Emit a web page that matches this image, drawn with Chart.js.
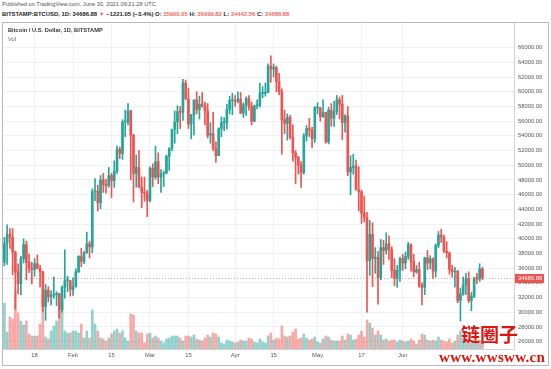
<!DOCTYPE html>
<html>
<head>
<meta charset="utf-8">
<script src="https://cdn.jsdelivr.net/npm/chart.js@4.4.1/dist/chart.umd.min.js"></script>
<style>
  body { margin: 0; background: #fff; width: 551px; height: 369px; overflow: hidden; position: relative; font-family: "Liberation Sans", Arial, sans-serif; }
  .txt { position: absolute; white-space: nowrap; }
  #pub { left: 2px; top: 1px; font-size: 5.7px; color: #555; }
  #sym { left: 2px; top: 11px; font-size: 5.9px; color: #222; font-weight: bold; }
  #sym .r { color: #ef6a66; }
  #box { position: absolute; left: 2px; top: 22px; width: 547px; height: 344px; border: 1px solid #b8b8b8; box-sizing: border-box; }
  #wrap { position: absolute; left: 3px; top: 23px; }
  #title { left: 8px; top: 27px; font-size: 5.7px; font-weight: bold; color: #333; }
  #vol { left: 8px; top: 36px; font-size: 5.7px; color: #666; }
  #wm1 { left: 461px; top: 324px; font-size: 19px; font-weight: bold; color: #e0140e; font-family: "Noto Sans CJK SC", sans-serif; line-height: 1; }
  #wm2 { left: 439px; top: 350px; font-size: 15px; font-weight: bold; color: #e0140e; font-family: "Liberation Serif", serif; line-height: 1; letter-spacing: 0.3px; }
</style>
</head>
<body>
<div id="pub" class="txt">Published on TradingView.com, June 30, 2021 09:21:28 UTC</div>
<div id="sym" class="txt">BITSTAMP:BTCUSD, 1D: 34686.88 <span class="r">▼</span> −1221.05 (−3.4%) O: <span class="r">35900.05</span> H: <span class="r">36099.82</span> L: <span class="r">34442.56</span> C: <span class="r">34686.88</span></div>
<div id="box"></div>
<div id="wrap"><canvas id="chart" width="544" height="341"></canvas></div>
<div id="title" class="txt">Bitcoin / U.S. Dollar, 1D, BITSTAMP</div>
<div id="vol" class="txt">Vol</div>
<div id="wm1" class="txt">链圈子</div>
<div id="wm2" class="txt">www.wwsww.cn</div>
<script>
// daily candles, 7 Jan 2021 .. 30 Jun 2021, prices in thousand USD
const opens = [
  36.8, 39.4, 40.6, 40.2, 38.2, 35.5, 33.9, 37.3, 39.2, 36.8, 36.0, 35.8, 36.6, 36.0, 35.5, 30.8, 33.0, 32.1, 32.3, 32.4, 32.5, 30.4, 33.4, 34.3, 34.3,
  33.1, 33.5, 35.5, 37.6, 36.9, 38.1, 39.3, 38.9, 46.4, 46.5, 44.9, 48.0, 47.4, 47.2, 48.6, 47.9, 49.2, 52.2, 51.6, 55.9, 55.9, 57.4, 54.1, 48.9, 49.7, 47.0, 46.3, 46.2,
  45.2, 49.6, 48.4, 50.5, 48.4, 48.8, 48.9, 51.2, 52.3, 54.9, 55.9, 57.3, 57.2, 61.2, 59.0, 55.6, 56.9, 58.9, 57.6, 58.3, 58.1, 57.4, 54.1, 54.3, 52.3, 51.3, 55.0, 55.8, 55.8, 57.6, 58.8,
  58.8, 58.7, 59.0, 57.1, 58.2, 59.1, 58.0, 56.0, 58.1, 58.1, 59.8, 59.8, 59.9, 63.5, 63.1, 63.3, 61.4, 60.0, 56.2, 55.7, 56.5, 53.8, 51.7, 51.1, 50.0, 49.0, 54.0, 55.0, 54.8, 53.6,
  57.8, 57.8, 56.6, 57.2, 53.2, 57.5, 56.4, 57.3, 58.9, 58.3, 55.8, 56.7, 49.1, 49.7, 49.9, 46.7, 46.4, 43.5, 42.9, 37.0, 40.6, 37.3, 37.5, 34.7, 38.8, 38.4, 39.3, 38.5, 35.7, 34.6, 35.7,
  37.3, 36.7, 37.6, 39.2, 36.9, 35.5, 35.8, 33.6, 33.4, 37.4, 36.7, 37.3, 35.6, 39.1, 40.5, 40.2, 38.3, 38.1, 35.8, 35.5, 35.6, 31.6, 32.5, 33.7, 34.6, 31.6, 32.2, 34.7, 34.5, 35.9
];
const highs = [
  40.2, 41.9, 41.4, 41.4, 38.3, 36.6, 37.6, 40.0, 39.7, 37.9, 36.8, 37.3, 37.8, 36.4, 35.6, 33.8, 33.5, 32.9, 34.8, 32.8, 32.6, 33.6, 38.5, 34.9, 34.3,
  34.7, 35.9, 37.7, 38.7, 38.3, 40.9, 39.7, 46.8, 48.2, 47.3, 48.6, 48.9, 48.1, 49.7, 48.9, 50.6, 52.6, 52.5, 56.2, 57.5, 58.4, 57.5, 54.2, 51.4, 52.0, 48.4, 48.4, 46.6,
  49.8, 50.2, 52.6, 51.7, 49.4, 49.2, 51.4, 52.4, 54.9, 57.4, 58.1, 58.0, 61.7, 61.6, 60.5, 56.9, 58.9, 60.0, 59.4, 59.9, 58.6, 58.4, 55.8, 57.2, 53.2, 55.1, 56.6, 56.5, 58.3, 59.4, 59.8,
  59.5, 60.0, 59.9, 58.5, 59.3, 59.5, 58.6, 58.2, 58.9, 61.2, 60.7, 61.2, 63.8, 64.9, 63.8, 63.5, 62.5, 60.4, 57.5, 57.0, 56.8, 55.5, 52.0, 51.2, 50.5, 54.3, 55.4, 56.4, 55.2, 58.0,
  58.5, 57.9, 58.9, 57.2, 57.9, 58.4, 58.7, 59.5, 59.3, 59.5, 56.9, 58.0, 51.3, 51.5, 50.7, 49.8, 46.6, 45.8, 43.6, 42.5, 42.2, 38.8, 38.3, 39.9, 39.8, 40.8, 40.4, 38.9, 37.3, 36.4, 37.5,
  37.9, 38.2, 39.5, 39.3, 37.9, 36.4, 36.8, 34.0, 37.5, 38.4, 37.7, 37.4, 39.3, 41.0, 41.3, 40.5, 39.6, 38.2, 36.4, 36.1, 35.7, 33.3, 34.8, 35.3, 35.5, 32.7, 34.7, 35.3, 36.6, 36.1
];
const lows = [
  36.3, 36.5, 38.7, 35.1, 30.4, 32.5, 32.4, 36.7, 34.4, 35.4, 33.9, 34.9, 35.9, 33.4, 30.1, 28.9, 31.4, 31.0, 31.9, 30.9, 29.2, 30.0, 31.9, 32.8, 32.2,
  32.3, 33.4, 35.4, 36.2, 36.6, 38.0, 37.4, 38.1, 45.2, 43.8, 44.1, 46.3, 46.2, 47.0, 45.6, 47.0, 48.9, 50.9, 50.8, 53.9, 55.5, 48.0, 45.0, 47.0, 47.0, 44.2, 45.1, 43.0,
  45.0, 47.1, 48.1, 47.5, 46.3, 47.1, 48.9, 49.3, 52.0, 53.0, 54.3, 55.0, 56.1, 59.0, 55.0, 53.6, 54.1, 57.0, 56.3, 57.9, 55.5, 53.7, 53.0, 52.0, 50.4, 51.3, 53.9, 54.7, 54.9, 57.0, 56.9,
  58.0, 58.5, 57.0, 56.5, 56.8, 57.5, 55.5, 55.9, 57.7, 57.9, 59.2, 59.4, 59.9, 61.3, 62.0, 60.0, 59.6, 51.5, 54.3, 53.4, 53.6, 50.6, 47.5, 48.8, 47.0, 48.8, 53.3, 53.9, 52.4, 53.1,
  57.0, 56.0, 56.5, 53.0, 52.9, 55.3, 55.3, 56.9, 56.3, 53.5, 54.5, 48.6, 46.0, 48.8, 46.6, 43.8, 42.1, 42.3, 30.0, 35.0, 33.5, 35.3, 31.1, 34.4, 36.5, 37.9, 37.2, 34.7, 33.6, 33.4, 34.2,
  35.7, 35.9, 37.2, 35.6, 34.8, 35.3, 33.4, 31.0, 32.4, 35.8, 35.9, 34.6, 34.8, 38.8, 39.5, 38.1, 37.4, 35.2, 34.8, 33.4, 31.3, 28.8, 32.3, 32.4, 31.3, 30.2, 32.0, 33.9, 34.2, 34.44
];
const closes = [
  39.4, 40.6, 40.2, 38.2, 35.5, 33.9, 37.3, 39.2, 36.8, 36.0, 35.8, 36.6, 36.0, 35.5, 30.8, 33.0, 32.1, 32.3, 32.4, 32.5, 30.4, 33.4, 34.3, 34.3, 33.1,
  33.5, 35.5, 37.6, 36.9, 38.1, 39.3, 38.9, 46.4, 46.5, 44.9, 48.0, 47.4, 47.2, 48.6, 47.9, 49.2, 52.2, 51.6, 55.9, 55.9, 57.4, 54.1, 48.9, 49.7, 47.0, 46.3, 46.2, 45.2,
  49.6, 48.4, 50.5, 48.4, 48.8, 48.9, 51.2, 52.3, 54.9, 55.9, 57.3, 57.2, 61.2, 59.0, 55.6, 56.9, 58.9, 57.6, 58.3, 58.1, 57.4, 54.1, 54.3, 52.3, 51.3, 55.0, 55.8, 55.8, 57.6, 58.8, 58.8,
  58.7, 59.0, 57.1, 58.2, 59.1, 58.0, 56.0, 58.1, 58.1, 59.8, 59.8, 59.9, 63.5, 63.1, 63.3, 61.4, 60.0, 56.2, 55.7, 56.5, 53.8, 51.7, 51.1, 50.0, 49.0, 54.0, 55.0, 54.8, 53.6, 57.8,
  57.8, 56.6, 57.2, 53.2, 57.5, 56.4, 57.3, 58.9, 58.3, 55.8, 56.7, 49.1, 49.7, 49.9, 46.7, 46.4, 43.5, 42.9, 37.0, 40.6, 37.3, 37.5, 34.7, 38.8, 38.4, 39.3, 38.5, 35.7, 34.6, 35.7, 37.3,
  36.7, 37.6, 39.2, 36.9, 35.5, 35.8, 33.6, 33.4, 37.4, 36.7, 37.3, 35.6, 39.1, 40.5, 40.2, 38.3, 38.1, 35.8, 35.5, 35.6, 31.6, 32.5, 33.7, 34.6, 31.6, 32.2, 34.7, 34.5, 35.9, 34.68688
];
// volume, thousand BTC
const volumes = [
  46, 17, 32, 30, 58, 36, 28, 24, 28, 15, 13, 13, 13, 25, 56, 12, 10, 18, 23, 28, 40, 48, 18, 16, 16,
  18, 18, 16, 25, 11, 18, 11, 39, 25, 18, 11, 10, 8, 11, 15, 18, 20, 16, 18, 11, 8, 35, 34, 18, 16, 16, 6, 15,
  16, 11, 13, 11, 8, 6, 10, 11, 13, 13, 13, 11, 8, 13, 13, 12, 14, 10, 9, 8, 11, 14, 12, 16, 15, 12, 6, 5, 9, 8, 7,
  6, 7, 9, 8, 8, 11, 10, 7, 6, 10, 7, 6, 13, 16, 9, 11, 10, 23, 13, 12, 13, 17, 20, 10, 11, 15, 11, 9, 10, 12,
  7, 6, 10, 13, 12, 9, 8, 8, 8, 13, 9, 15, 14, 9, 10, 14, 18, 12, 29, 26, 21, 14, 18, 14, 9, 10, 8, 9, 9, 7, 9,
  8, 7, 8, 10, 8, 5, 9, 15, 14, 9, 8, 9, 8, 12, 9, 8, 7, 10, 6, 8, 14, 18, 11, 9, 10, 8, 6, 8, 9, 7
];
const tickIdx = [11, 25, 39, 53, 67, 84, 98, 114, 130, 145];
const tickText = ['18', 'Feb', '15', 'Mar', '15', 'Apr', '15', 'May', '17', 'Jun'];
const priceTicks = [26000, 28000, 30000, 32000, 34000, 36000, 38000, 40000, 42000, 44000, 46000,
    48000, 50000, 52000, 54000, 56000, 58000, 60000, 62000, 64000, 66000];
const lastPrice = 34686.88;

const upColor = '#26a69a', downColor = '#ef5350';
const upVol = 'rgba(38,166,154,0.5)', downVol = 'rgba(239,83,80,0.5)';

// one slot per day, plus empty space on the right like TradingView
const slots = [];
for (let i = 0; i < 186; i++) {
    const d = new Date(Date.UTC(2021, 0, 7 + i));
    slots.push(d.toISOString().slice(0, 10));
}

const bodies = opens.map((o, i) => [o * 1000, closes[i] * 1000]);
const wicks = lows.map((l, i) => [l * 1000, highs[i] * 1000]);
const isUp = (i) => closes[i] >= opens[i];

const tickFont = { family: '"Liberation Sans", Arial, sans-serif', size: 5.8 };

const lastPriceLine = {
    id: 'lastPriceLine',
    afterDatasetsDraw(chart) {
        const { ctx, chartArea: a } = chart;
        const py = Math.round(chart.scales.y.getPixelForValue(lastPrice)) + 0.5;
        ctx.save();
        ctx.strokeStyle = 'rgba(239,83,80,0.55)';
        ctx.lineWidth = 1;
        ctx.setLineDash([1, 2]);
        ctx.beginPath();
        ctx.moveTo(a.left, py);
        ctx.lineTo(a.right, py);
        ctx.stroke();
        ctx.restore();
    },
    afterDraw(chart) {
        const { ctx, chartArea: a } = chart;
        const py = Math.round(chart.scales.y.getPixelForValue(lastPrice));
        ctx.save();
        ctx.fillStyle = downColor;
        ctx.fillRect(a.right + 1, py - 4, 29, 9);
        ctx.fillStyle = '#fff';
        ctx.font = '5.8px "Liberation Sans", Arial, sans-serif';
        ctx.textBaseline = 'middle';
        ctx.fillText(lastPrice.toFixed(2), a.right + 4, py + 0.5);
        ctx.restore();
    }
};

var ctx = document.getElementById('chart').getContext('2d');
window.btcChart = new Chart(ctx, {
    type: 'bar',
    data: {
        labels: slots,
        datasets: [
            {
                label: 'body',
                data: bodies,
                yAxisID: 'y',
                grouped: false,
                barThickness: 2,
                minBarLength: 1,
                backgroundColor: (c) => isUp(c.dataIndex) ? upColor : downColor,
                order: 0,
            },
            {
                label: 'wick',
                data: wicks,
                yAxisID: 'y',
                grouped: false,
                barThickness: 1,
                backgroundColor: (c) => isUp(c.dataIndex) ? upColor : downColor,
                order: 1,
            },
            {
                label: 'Vol',
                data: volumes,
                yAxisID: 'vol',
                grouped: false,
                barThickness: 2,
                backgroundColor: (c) => isUp(c.dataIndex) ? upVol : downVol,
                order: 2,
            }
        ]
    },
    options: {
        responsive: false,
        animation: false,
        layout: { padding: 0 },
        plugins: { legend: { display: false }, tooltip: { enabled: false } },
        scales: {
            x: {
                grid: { color: '#eff1f5', drawTicks: false, offset: false },
                border: { display: true, color: '#cfd2d8' },
                ticks: {
                    font: tickFont,
                    color: '#555',
                    padding: 3,
                    maxRotation: 0,
                    autoSkip: false,
                    callback: (v) => tickText[tickIdx.indexOf(v)],
                },
                afterBuildTicks: (s) => { s.ticks = tickIdx.map((v) => ({ value: v })); },
                afterFit: (s) => { s.height = 15; s.paddingLeft = 0; s.paddingRight = 0; },
            },
            y: {
                position: 'right',
                min: 25000,
                max: 69360,
                grid: { color: '#eff1f5', drawTicks: false },
                border: { display: true, color: '#cfd2d8' },
                ticks: {
                    font: tickFont,
                    color: '#555',
                    padding: 4,
                    autoSkip: false,
                    callback: (v) => v.toFixed(2),
                },
                afterBuildTicks: (s) => { s.ticks = priceTicks.map((v) => ({ value: v })); },
                afterFit: (s) => { s.width = 33; s.paddingTop = 0; s.paddingBottom = 0; },
            },
            vol: {
                display: false,
                min: 0,
                max: 326,
            }
        }
    },
    plugins: [lastPriceLine]
});
</script>
</body>
</html>
